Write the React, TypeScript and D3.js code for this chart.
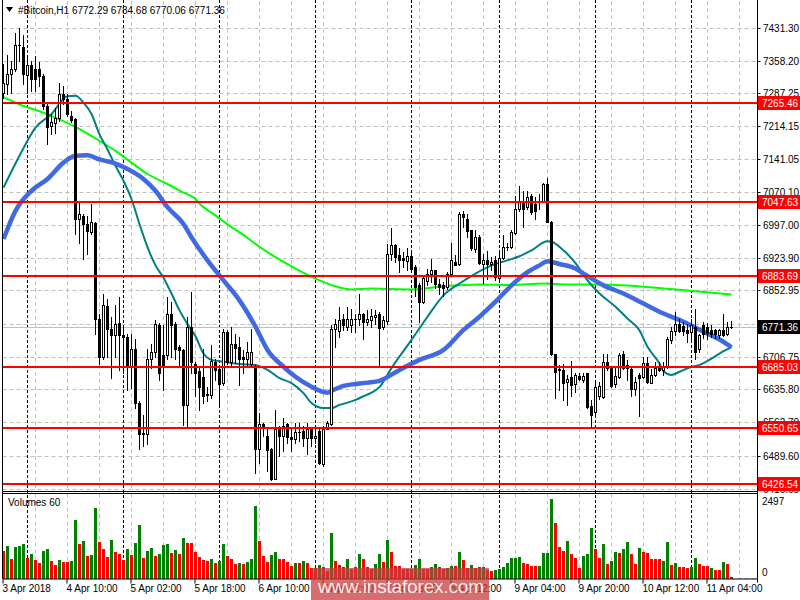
import React from 'react';
import * as d3 from 'd3';

const opens = [
7287,7307,7328,7339,7393,7388,7326,7348,7339,7339,7324,7258,7214,7222,7233,7284,7273,7236,7231,7010,
7017,6998,6981,7001,6789,6707,6818,6769,6755,6782,6755,6751,6685,6723,6606,6539,6536,6703,6718,6776,
6711,6711,6802,6779,6729,6722,6601,6773,6692,6676,6663,6622,6623,6696,6679,6649,6762,6696,6736,6728,
6707,6703,6692,6685,6503,6560,6533,6504,6438,6547,6533,6558,6530,6526,6541,6543,6528,6547,6528,6543,
6472,6549,6560,6767,6763,6791,6773,6776,6791,6789,6800,6784,6787,6795,6800,6773,6786,6933,6952,6930,
6925,6917,6928,6904,6864,6828,6873,6890,6897,6868,6864,6860,6890,6915,6910,7021,7010,6985,6944,6970,
6912,6920,6910,6919,6881,6925,6948,6949,6979,7032,7047,7036,7061,7044,7047,7050,7087,7003,6713,6678,
6678,6652,6663,6647,6665,6656,6671,6598,6585,6620,6618,6696,6684,6647,6663,6714,6682,6679,6636,6667,
6663,6694,6650,6667,6684,6678,6685,6744,6764,6780,6774,6766,6762,6773,6725,6776,6773,6766,6766,6755,
6766,6757,6772.29];
const highs = [
7350,7371,7357,7419,7431,7415,7371,7357,7368,7355,7330,7262,7240,7255,7309,7302,7284,7247,7233,7047,
7021,7017,7044,7003,6802,6844,6835,6795,6820,6839,6773,6758,6758,6747,6609,6579,6723,6736,6787,6782,
6776,6839,6828,6784,6733,6725,6795,6849,6696,6682,6725,6641,6733,6703,6685,6767,6765,6773,6757,6751,
6722,6740,6767,6689,6583,6561,6547,6506,6590,6554,6572,6561,6547,6561,6561,6554,6561,6550,6557,6548,
6554,6565,6776,6789,6817,6802,6817,6811,6802,6846,6803,6809,6813,6809,6806,6796,6954,6990,6955,6947,
6937,6947,6935,6908,6869,6886,6901,6922,6898,6877,6871,6893,6957,6930,7025,7027,7022,6986,6986,6974,
6933,6939,6926,6928,6935,6974,6957,6985,7061,7083,7072,7072,7065,7058,7065,7090,7101,7006,6714,6689,
6692,6667,6698,6671,6671,6671,6672,6612,6649,6652,6714,6714,6687,6685,6716,6720,6700,6684,6663,6671,
6707,6707,6679,6696,6696,6696,6751,6773,6806,6791,6784,6780,6789,6811,6758,6784,6782,6776,6769,6769,
6802,6784,6784.68];
const lows = [
7276,7285,7287,7335,7357,7306,7287,7291,7291,7302,7252,7176,7196,7200,7225,7262,7236,7224,6977,6957,
6922,6933,6977,6758,6691,6703,6706,6660,6707,6678,6671,6634,6638,6594,6503,6510,6514,6682,6707,6656,
6634,6703,6707,6701,6685,6557,6554,6671,6620,6590,6605,6609,6616,6656,6599,6645,6692,6685,6694,6645,
6671,6685,6685,6452,6474,6532,6455,6436,6438,6488,6499,6517,6499,6517,6521,6510,6492,6510,6517,6470,
6466,6549,6557,6729,6751,6765,6765,6762,6762,6776,6745,6776,6773,6780,6685,6769,6779,6919,6915,6893,
6904,6897,6893,6840,6784,6825,6864,6871,6859,6844,6840,6857,6886,6908,6908,6992,6970,6941,6937,6912,
6869,6879,6897,6875,6875,6922,6941,6947,6977,7028,6992,7032,7021,7010,7032,7047,7003,6711,6616,6634,
6612,6600,6620,6630,6656,6652,6594,6554,6579,6614,6616,6678,6641,6641,6660,6679,6656,6620,6623,6577,
6660,6650,6649,6665,6676,6667,6682,6738,6755,6762,6755,6740,6744,6703,6718,6749,6747,6751,6749,6749,
6752,6755,6770.06];
const closes = [
7309,7328,7339,7393,7392,7328,7348,7317,7317,7324,7258,7212,7223,7233,7284,7273,7242,7227,7010,7020,
6998,6983,7004,6789,6706,6820,6769,6755,6780,6755,6751,6685,6725,6605,6536,6536,6701,6718,6780,6671,
6685,6802,6776,6725,6722,6601,6773,6696,6672,6641,6620,6625,6698,6678,6647,6762,6696,6734,6727,6703,
6703,6718,6718,6503,6560,6554,6501,6438,6547,6532,6554,6530,6525,6541,6542,6528,6547,6528,6533,6474,
6547,6561,6767,6779,6787,6776,6791,6791,6789,6800,6784,6789,6796,6798,6771,6787,6933,6952,6926,6920,
6919,6928,6901,6860,6828,6881,6890,6897,6866,6860,6859,6890,6920,6909,7021,7014,6983,6947,6971,6913,
6920,6912,6915,6882,6925,6949,6949,6981,7032,7047,7032,7059,7025,7027,7050,7087,7003,6713,6674,6679,
6650,6657,6645,6667,6657,6665,6596,6579,6641,6643,6696,6682,6643,6665,6711,6682,6689,6636,6652,6660,
6694,6652,6667,6682,6678,6684,6745,6764,6780,6764,6764,6760,6776,6718,6755,6757,6760,6757,6757,6766,
6755,6773,6771.36];

const volumes = [
863,1021,611,1000,1032,1084,653,768,579,484,863,926,558,421,579,526,526,558,1842,1095,
1179,705,737,2221,1147,926,674,1210,842,779,590,926,737,1126,1684,642,863,958,695,768,
1053,1068,800,895,768,1274,1126,1126,832,674,579,558,611,484,558,1084,705,600,453,484,
453,516,611,2285,1179,695,526,737,842,611,611,516,390,484,484,558,484,326,316,421,
347,242,1443,547,421,347,611,284,347,768,611,347,284,453,768,526,1210,842,390,390,
284,284,284,421,611,284,284,347,453,347,284,326,390,390,842,579,326,421,326,347,
347,263,242,263,305,369,474,653,653,674,495,453,390,390,390,811,811,2497,1737,1000,
874,1190,768,632,337,705,779,1590,926,653,1085,463,558,832,790,926,1158,758,463,969,
832,811,611,611,611,558,1158,432,495,358,358,337,369,653,442,390,390,326,263,263,
527,453,53];
const volumeUp = [
0,1,0,1,1,1,0,1,0,0,1,1,0,0,1,0,0,1,1,0,
1,0,1,1,0,0,0,1,0,0,0,1,0,1,1,0,1,1,0,1,
1,1,0,1,0,1,0,0,0,0,0,0,1,0,1,1,0,0,0,1,
0,1,1,1,0,0,0,1,1,0,0,0,0,1,0,1,0,0,0,1,
0,0,1,0,0,0,1,0,0,1,0,0,0,1,1,0,1,0,0,0,
0,0,0,1,1,0,0,1,1,0,0,1,1,0,1,0,0,1,0,1,
1,0,0,1,1,1,1,1,1,1,0,0,0,0,1,1,1,1,0,0,
0,1,0,0,0,1,1,1,0,0,1,0,1,1,0,1,1,0,0,1,
0,0,0,0,0,1,1,0,1,0,0,0,1,1,0,0,0,1,0,0,
1,0,0];

const tealMA: [number, number][] = [
[0,7079],[4,7149],[8,7211],[12,7241],[16,7280],[18,7281],[20,7266],[22,7241],[24,7196],[26,7163],
[28,7127],[30,7094],[32,7054],[34,6999],[36,6948],[38,6908],[40,6881],[42,6846],[44,6809],[46,6779],
[48,6752],[50,6714],[52,6700],[55,6696],[59,6691],[63,6689],[66,6678],[69,6660],[72,6649],[75,6627],
[77,6605],[80,6594],[82,6594],[84,6601],[86,6606],[88,6612],[90,6620],[92,6628],[94,6640],[97,6682],
[102,6744],[106,6795],[110,6842],[114,6868],[118,6890],[122,6908],[126,6919],[129,6928],[132,6941],
[136,6961],[137,6960],[140,6941],[143,6913],[146,6875],[149,6846],[153,6817],[156,6791],[159,6765],
[161,6729],[164,6692],[165,6675],[167,6667],[169,6674],[172,6685],[174,6689],[177,6703],[179,6714],[182,6728]];
const blueMA: [number, number][] = [
[0,6966],[3,7028],[7,7072],[11,7098],[15,7134],[18,7149],[21,7150],[24,7141],[28,7132],[31,7120],
[35,7098],[38,7072],[41,7036],[45,6999],[47,6970],[51,6919],[55,6875],[59,6831],[63,6773],[66,6722],
[70,6685],[73,6663],[77,6641],[81,6628],[82,6632],[85,6643],[88,6647],[91,6650],[94,6654],[99,6678],
[104,6700],[110,6722],[115,6766],[119,6795],[123,6828],[127,6864],[131,6893],[134,6908],[136,6917],
[139,6911],[143,6901],[145,6890],[150,6864],[155,6846],[160,6824],[165,6802],[170,6784],[175,6762],
[179,6745],[182,6728]];
const limeMA: [number, number][] = [
[0,7278],[4,7262],[9,7247],[14,7229],[20,7203],[24,7182],[28,7160],[32,7134],[36,7109],[41,7087],
[45,7068],[48,7054],[49,7044],[53,7018],[57,6992],[60,6975],[63,6955],[68,6926],[73,6901],[78,6879],
[83,6862],[87,6855],[92,6857],[96,6856],[102,6855],[110,6862],[119,6866],[127,6865],[135,6868],
[140,6866],[148,6866],[157,6863],[165,6857],[173,6851],[182,6844]];

const priceTicks = [7431.30, 7358.20, 7287.25, 7214.15, 7141.05, 7070.10, 6997.00, 6923.90, 6852.95,
  6779.85, 6706.75, 6635.80, 6562.70, 6489.60, 6416.65];
const levels = [7265.46, 7047.63, 6883.69, 6685.03, 6550.65, 6426.54];
const lastPrice = 6771.36;
const timeLabels = ['3 Apr 2018', '4 Apr 10:00', '5 Apr 02:00', '5 Apr 18:00', '6 Apr 10:00',
  '7 Apr 02:00', '7 Apr 18:00', '8 Apr 12:00', '9 Apr 04:00', '9 Apr 20:00', '10 Apr 12:00', '11 Apr 04:00'];
const timeBars = [0, 16, 32, 48, 64, 80, 96, 112, 128, 144, 160, 176];
const daySepBars = [6, 30, 54, 78, 102, 124, 148, 172];

const FONT = '"Liberation Sans", Arial, sans-serif';

export default function App() {
  const x = d3.scaleLinear().domain([0, 1]).range([3.5, 7.5]);
  const y = d3.scaleLinear().domain([6413.8, 7489.6]).range([490, 1]);
  const yv = d3.scaleLinear().domain([0, 2497]).range([578.5, 499]);
  const left = 2.5, right = 757.5, mainBottom = 491.5, volTop = 493.5, volBottom = 578.5;

  const line = d3.line<[number, number]>().x(d => x(d[0])).y(d => y(d[1])).curve(d3.curveMonotoneX);

  const gridX: number[] = [];
  for (let b = 8; x(b) < right - 2; b += 8) gridX.push(x(b));

  const candles = opens.map((o, i) => {
    const h = highs[i], l = lows[i], c = closes[i];
    const cx = x(i);
    const yh = Math.round(y(h)), yl = Math.round(y(l));
    const yt = Math.round(y(Math.max(o, c))), yb = Math.round(y(Math.min(o, c)));
    const bull = c > o;
    return (
      <g key={i}>
        <rect x={cx - 0.5} y={yh} width={1} height={yl - yh + 1} fill="#000" />
        <rect x={cx - 1.5} y={yt} width={3} height={yb - yt + 1} fill="#000" />
        {bull && yb - yt >= 2 && <rect x={cx - 0.5} y={yt + 1} width={1} height={yb - yt - 1} fill="#fff" />}
      </g>
    );
  });

  const vols = volumes.map((v, i) => {
    const cx = x(i);
    const top = Math.round(yv(v));
    return <rect key={i} x={cx - 1.5} y={top} width={3} height={Math.max(1, 579 - top)} fill={volumeUp[i] ? '#008000' : '#ff0000'} />;
  });

  const lastY = Math.round(y(lastPrice)) + 0.5;

  return (
    <svg width={800} height={600} style={{ position: 'absolute', left: 0, top: 0, background: '#fff' }}
      fontFamily={FONT}>
      <rect x={0} y={0} width={800} height={600} fill="#fff" />
      {/* horizontal grid */}
      {priceTicks.map((p, i) => (
        <line key={'hg' + i} x1={left} x2={right} y1={Math.round(y(p)) + 0.5} y2={Math.round(y(p)) + 0.5}
          stroke="#c0c0c0" strokeDasharray="4,3" />
      ))}
      <line x1={left} x2={right} y1={volBottom - 0.0} y2={volBottom} stroke="#c0c0c0" strokeDasharray="4,3" />
      {/* vertical grid */}
      {gridX.map((gx, i) => (
        <g key={'vg' + i}>
          <line x1={gx} x2={gx} y1={1} y2={mainBottom} stroke="#c0c0c0" strokeDasharray="4,3" />
          <line x1={gx} x2={gx} y1={volTop} y2={volBottom} stroke="#c0c0c0" strokeDasharray="4,3" />
        </g>
      ))}
      {/* day separators */}
      {daySepBars.map((b, i) => (
        <line key={'ds' + i} x1={x(b)} x2={x(b)} y1={0} y2={volBottom} stroke="#000" strokeDasharray="3,2" />
      ))}
      {/* current price line */}
      <line x1={left} x2={right} y1={lastY} y2={lastY} stroke="#c0c0c0" />
      {/* moving averages */}
      <path d={line(limeMA) || ''} fill="none" stroke="#00ff00" strokeWidth={2} />
      <path d={line(tealMA) || ''} fill="none" stroke="#008080" strokeWidth={2} />
      <path d={line(blueMA) || ''} fill="none" stroke="#4169e1" strokeWidth={4.5} />
      {/* candles */}
      {candles}
      {/* red levels */}
      {levels.map((p, i) => (
        <line key={'lv' + i} x1={left} x2={right} y1={Math.round(y(p))} y2={Math.round(y(p))} stroke="#ff0000" strokeWidth={2} />
      ))}
      {/* volumes */}
      {vols}
      {/* frames */}
      <line x1={left} x2={left} y1={0} y2={volBottom} stroke="#000" />
      <line x1={right} x2={right} y1={0} y2={volBottom + 4} stroke="#000" />
      <line x1={left} x2={right} y1={mainBottom} y2={mainBottom} stroke="#000" />
      <line x1={left} x2={right} y1={volTop} y2={volTop} stroke="#000" />
      <line x1={left} x2={right} y1={volBottom + 0.5} y2={volBottom + 0.5} stroke="#000" />
      {/* price axis labels */}
      {priceTicks.map((p, i) => (
        <g key={'pl' + i}>
          <line x1={right} x2={right + 3} y1={Math.round(y(p)) + 0.5} y2={Math.round(y(p)) + 0.5} stroke="#000" />
          <text x={763} y={Math.round(y(p)) + 4} fontSize={10} fill="#000">{p.toFixed(2)}</text>
        </g>
      ))}
      {levels.map((p, i) => (
        <g key={'lb' + i}>
          <rect x={758} y={Math.round(y(p)) - 7} width={42} height={14} fill="#ff0000" />
          <text x={762} y={Math.round(y(p)) + 4} fontSize={10} fill="#fff">{p.toFixed(2)}</text>
        </g>
      ))}
      <rect x={758} y={lastY - 7.5} width={42} height={14} fill="#000" />
      <text x={762} y={lastY + 3.5} fontSize={10} fill="#fff">{lastPrice.toFixed(2)}</text>
      {/* volume axis */}
      <text x={762} y={505} fontSize={10} fill="#000">2497</text>
      <text x={762} y={576} fontSize={10} fill="#000">0</text>
      <text x={8} y={506} fontSize={10} fill="#000">Volumes 60</text>
      {/* time axis */}
      {timeBars.map((b, i) => (
        <g key={'tl' + i}>
          <line x1={x(b) - 0.5} x2={x(b) - 0.5} y1={volBottom + 1} y2={volBottom + 5} stroke="#000" />
          <text x={x(b) - 1} y={592} fontSize={10} fill="#000">{timeLabels[i]}</text>
        </g>
      ))}
      {/* title */}
      <path d="M6,7 L13,7 L9.5,12 Z" fill="#000" />
      <text x={18} y={14} fontSize={10} fill="#000">#Bitcoin,H1  6772.29 6784.68 6770.06 6771.36</text>
      {/* watermark */}
      <rect x={311} y={568} width={178} height={32} fill="#c83c3e" opacity={0.75} />
      <text x={318} y={593} fontSize={19} fill="#fff" fillOpacity={0.9} textLength={166}>www.instaforex.com</text>
    </svg>
  );
}
